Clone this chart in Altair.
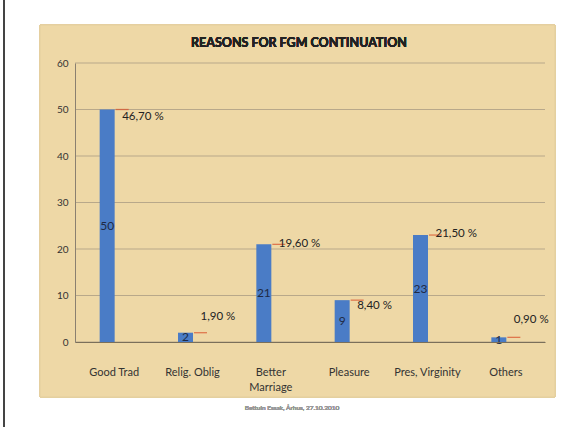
import altair as alt
import pandas as pd

categories = ["Good Trad", "Relig. Oblig", "Better Marriage", "Pleasure", "Pres, Virginity", "Others"]
counts = [50, 2, 21, 9, 23, 1]
percent_labels = ["46,70 %", "1,90 %", "19,60 %", "8,40 %", "21,50 %", "0,90 %"]
percent_label_y = [48.4, 5.4, 21.1, 7.7, 23.3, 4.7]
y_ticks = [0, 10, 20, 30, 40, 50, 60]

title_text = "REASONS FOR FGM CONTINUATION"
footer_text = "Bettuin Essak, Århus, 27.10.2010"

df = pd.DataFrame({
    "cat": categories,
    "count": counts,
    "half": [c / 2 for c in counts],
    "pct": percent_labels,
    "pct_y": percent_label_y,
})

W, H = 470, 279
FONT = "Lato"

x_enc = alt.X("cat:N", sort=categories, title=None,
              scale=alt.Scale(paddingInner=0.0, paddingOuter=0.0),
              axis=alt.Axis(labelAngle=0, labelFont=FONT, labelFontSize=11, labelColor="#333",
                            labelPadding=24, ticks=False, domainColor="#7a6f5a", domainWidth=1.2,
                            zindex=1, labelLineHeight=15,
                            labelExpr="datum.label == 'Better Marriage' ? ['Better', 'Marriage'] : datum.label"))
y_scale = alt.Scale(domain=[0, 60], nice=False)
y_axis = alt.Axis(values=y_ticks, labelFont=FONT, labelFontSize=10, labelColor="#333",
                  grid=False, ticks=False, domainColor="#8a8070", labelPadding=7, zindex=1)

base = alt.Chart(df)

bg = base.mark_rect(color="#eed8a6", stroke="#e4cf9e").encode(
    x=alt.value(-35), x2=alt.value(480), y=alt.value(-38), y2=alt.value(334))

border = base.mark_rule(color="#444", strokeWidth=2).encode(
    x=alt.value(-71), y=alt.value(-63), y2=alt.value(364))

grid = alt.Chart(pd.DataFrame({"t": y_ticks})).mark_rule(color="#b8a88a", strokeWidth=1).encode(
    y=alt.Y("t:Q", scale=y_scale, axis=y_axis, title=None))

bars = base.mark_bar(color="#4a7cc6", width=15, xOffset=-7).encode(
    x=x_enc,
    y=alt.Y("count:Q", scale=y_scale, title=None, axis=y_axis),
)

red = base.mark_tick(color="#d9502a", orient="horizontal", size=13, thickness=1.3, xOffset=8).encode(
    x=alt.X("cat:N", sort=categories), y=alt.Y("count:Q", scale=y_scale))

count_text = base.mark_text(font=FONT, fontSize=12, color="#1f2a44", xOffset=-7).encode(
    x=alt.X("cat:N", sort=categories), y=alt.Y("half:Q", scale=y_scale), text="count:Q")

pct_text = base.mark_text(font=FONT, fontSize=11.5, color="#222", align="left", xOffset=8).encode(
    x=alt.X("cat:N", sort=categories), y=alt.Y("pct_y:Q", scale=y_scale), text="pct:N")

title = base.mark_text(font=FONT, fontSize=12.5, fontWeight="bold", color="#222").encode(
    x=alt.value(224), y=alt.value(-20), text=alt.value(title_text))

footer = base.mark_text(font=FONT, fontSize=6.5, color="#999").encode(
    x=alt.value(217), y=alt.value(345), text=alt.value(footer_text))

chart = alt.layer(bg, border, grid, bars, red, count_text, pct_text, title, footer).properties(
    width=W, height=H,
    autosize=alt.AutoSizeParams(type="none"),
    padding={"left": 75, "top": 63, "right": 32, "bottom": 85},
    background="white",
).configure_view(stroke=None)

chart.save("out.html", embed_options={"renderer": "svg", "actions": False})
